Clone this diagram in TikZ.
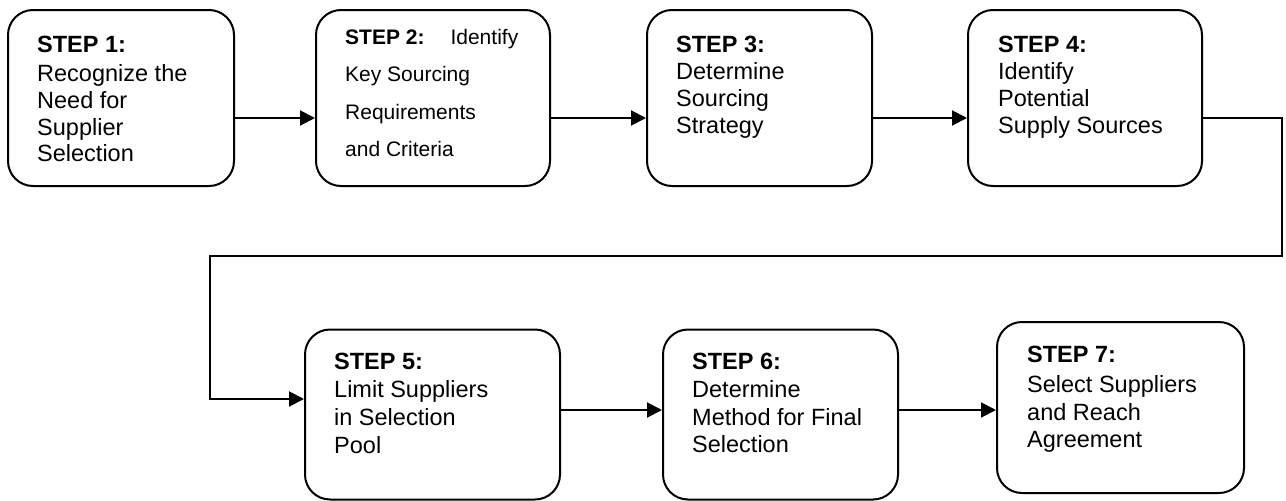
\documentclass[tikz,border=0pt]{standalone}
\usepackage{fontspec}
\setmainfont{Liberation Sans}
\usetikzlibrary{arrows.meta}
\begin{document}
\begin{tikzpicture}[x=1pt,y=-1pt,
  stepbox/.style={draw=black,line width=2pt,rounded corners=25pt,inner sep=0pt,fill=white},
  steptext/.style={anchor=north west,inner sep=0pt,align=left},
  arr/.style={line width=2pt,-{Triangle[length=15pt,width=15pt]}},
  big/.style={font=\fontsize{23.5}{26.7}\selectfont}]
\useasboundingbox[fill=white] (0,0) rectangle (1286,501);
% boxes
\node[stepbox,minimum width=226pt,minimum height=176pt] (b1) at (121,98) {};
\node[stepbox,minimum width=234pt,minimum height=176pt] (b2) at (433,98) {};
\node[stepbox,minimum width=225pt,minimum height=176pt] (b3) at (759.5,98) {};
\node[stepbox,minimum width=234pt,minimum height=176pt] (b4) at (1085,98) {};
\node[stepbox,minimum width=255pt,minimum height=170pt] (b5) at (432.5,414.5) {};
\node[stepbox,minimum width=235pt,minimum height=170pt] (b6) at (780.5,414.5) {};
\node[stepbox,minimum width=247pt,minimum height=171pt] (b7) at (1120.5,407.5) {};
% texts
\node[steptext,big] (t1) at (37,36) {\textbf{STEP 1:}\\[2.5pt]Recognize the\\Need for\\Supplier\\Selection};
\node[steptext,font=\fontsize{21}{37.3}\selectfont] (t2) at (345,29) {\textbf{STEP 2:}\hspace{26pt}Identify\\Key Sourcing\\Requirements\\and Criteria};
\node[steptext,font=\fontsize{23.5}{27}\selectfont] (t3) at (676,36) {\textbf{STEP 3:}\\Determine\\Sourcing\\Strategy};
\node[steptext,font=\fontsize{23.5}{27}\selectfont] (t4) at (998,36) {\textbf{STEP 4:}\\Identify\\Potential\\Supply Sources};
\node[steptext,font=\fontsize{23.5}{28}\selectfont] (t5) at (334,353) {\textbf{STEP 5:}\\Limit Suppliers\\in Selection\\Pool};
\node[steptext,font=\fontsize{23.5}{27.7}\selectfont] (t6) at (692,353) {\textbf{STEP 6:}\\Determine\\Method for Final\\Selection};
\node[steptext,font=\fontsize{23.5}{27.7}\selectfont] (t7) at (1027,346) {\textbf{STEP 7:}\\[2pt]Select Suppliers\\and Reach\\Agreement};
% connector coordinates
\coordinate (r1) at (0,118);
\coordinate (r2) at (0,410);
\coordinate (c1) at (1282,118);
\coordinate (c2) at (1282,256);
\coordinate (c3) at (210,256);
\coordinate (c4) at (210,399);
% arrows
\draw[arr] (b1.east |- r1) -- (b2.west |- r1);
\draw[arr] (b2.east |- r1) -- (b3.west |- r1);
\draw[arr] (b3.east |- r1) -- (b4.west |- r1);
\draw[arr] (b4.east |- r1) -- (c1) -- (c2) -- (c3) -- (c4) -- (b5.west |- c4);
\draw[arr] (b5.east |- r2) -- (b6.west |- r2);
\draw[arr] (b6.east |- r2) -- (b7.west |- r2);
\end{tikzpicture}
\end{document}
